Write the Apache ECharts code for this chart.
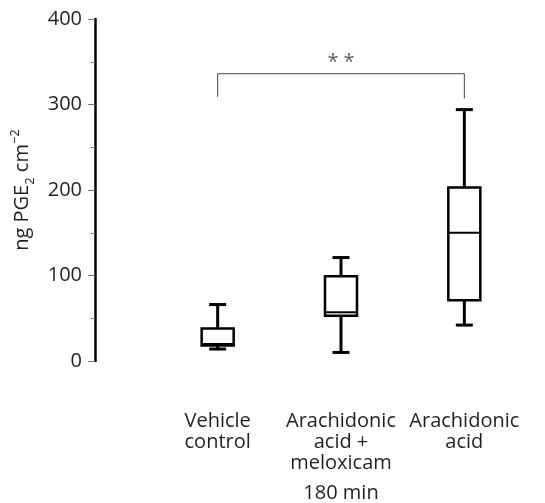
<!doctype html>
<html>
    <head>
        <meta charset="utf-8">
        <style>
            html, body { margin: 0; padding: 0; background: #fff; }
            #main { width: 545px; height: 503px; }
        </style>
    </head>
    <body>
        <div id="main"></div>
        <script src="https://cdn.jsdelivr.net/npm/echarts@6/dist/echarts.min.js"></script>
        <script>
            var chart = echarts.init(document.getElementById('main'));

            // groups and box stats: [min, q1, median, q3, max]
            var groups = ['Vehicle\ncontrol', 'Arachidonic\nacid +\nmeloxicam', 'Arachidonic\nacid'];
            var lows = [14, 10, 42];
            var q1s = [18, 53, 71];
            var medians = [20, 57, 150];
            var q3s = [38, 99, 203];
            var highs = [66, 121, 294];
            var yTicks = [0, 100, 200, 300, 400];

            // significance bracket between first and last group
            var bracket = [[0, 309], [0, 336], [2, 336], [2, 307]];
            var starAt = [[1, 336]];

            var boxData = groups.map(function (g, i) {
                return [i, lows[i], q1s[i], medians[i], q3s[i], highs[i]];
            });

            var font = '"Open Sans", "Noto Sans", sans-serif';
            var ink = '#231f20';

            function renderBox(params, api) {
                var x = api.value(0);
                var lo = api.coord([x, api.value(1)]);
                var q1 = api.coord([x, api.value(2)]);
                var med = api.coord([x, api.value(3)]);
                var q3 = api.coord([x, api.value(4)]);
                var hi = api.coord([x, api.value(5)]);
                var cx = lo[0];
                var bw = 32, cw = 17;
                var ws = { stroke: '#000', lineWidth: 3 };
                return {
                    type: 'group',
                    children: [
                        { type: 'line', shape: { x1: cx, y1: hi[1], x2: cx, y2: q3[1] }, style: ws },
                        { type: 'line', shape: { x1: cx, y1: q1[1], x2: cx, y2: lo[1] }, style: ws },
                        { type: 'line', shape: { x1: cx - cw / 2, y1: hi[1], x2: cx + cw / 2, y2: hi[1] }, style: ws },
                        { type: 'line', shape: { x1: cx - cw / 2, y1: lo[1], x2: cx + cw / 2, y2: lo[1] }, style: ws },
                        { type: 'rect', shape: { x: cx - bw / 2, y: q3[1], width: bw, height: q1[1] - q3[1] }, style: { stroke: '#000', lineWidth: 2.5, fill: '#fff' } },
                        { type: 'line', shape: { x1: cx - bw / 2, y1: med[1], x2: cx + bw / 2, y2: med[1] }, style: { stroke: '#000', lineWidth: 2 } }
                    ]
                };
            }

            chart.setOption({
                animation: false,
                grid: { left: 156, right: 19, top: 19, bottom: 142, outerBoundsMode: 'none', containLabel: false },
                xAxis: {
                    type: 'category',
                    data: groups,
                    name: '180 min',
                    nameLocation: 'middle',
                    nameGap: 122,
                    nameTextStyle: { fontFamily: font, fontSize: 20, color: ink },
                    axisLine: { show: false },
                    axisTick: { show: false },
                    axisLabel: {
                        margin: 50,
                        fontFamily: font,
                        fontSize: 20,
                        lineHeight: 21,
                        color: ink,
                        interval: 0
                    }
                },
                yAxis: {
                    type: 'value',
                    min: yTicks[0],
                    max: yTicks[yTicks.length - 1],
                    interval: 100,
                    offset: 61,
                    name: '{n|ng PGE}{sub|2}{n| cm}{sup|\u22122}',
                    nameLocation: 'middle',
                    nameGap: 57,
                    nameTextStyle: {
                        fontFamily: font,
                        fontSize: 20,
                        color: ink,
                        rich: {
                            n: { fontFamily: font, fontSize: 20, color: ink, lineHeight: 28, verticalAlign: 'middle' },
                            sub: { fontFamily: font, fontSize: 13, color: ink, lineHeight: 28, verticalAlign: 'bottom' },
                            sup: { fontFamily: font, fontSize: 13, color: ink, lineHeight: 28, verticalAlign: 'top' }
                        }
                    },
                    axisLine: { show: true, lineStyle: { color: '#000', width: 2.5 } },
                    axisTick: { show: true, length: 7, lineStyle: { color: '#777', width: 1 } },
                    minorTick: { show: true, splitNumber: 2, length: 4, lineStyle: { color: '#777', width: 1 } },
                    splitLine: { show: false },
                    axisLabel: {
                        margin: 13,
                        fontFamily: font,
                        fontSize: 20,
                        color: ink
                    }
                },
                series: [
                    {
                        type: 'custom',
                        renderItem: renderBox,
                        encode: { x: 0, y: [1, 2, 3, 4, 5] },
                        data: boxData,
                        z: 3
                    },
                    {
                        type: 'line',
                        data: bracket,
                        symbol: 'none',
                        silent: true,
                        lineStyle: { color: '#444', width: 1 },
                        z: 2
                    },
                    {
                        type: 'scatter',
                        data: starAt,
                        symbolSize: 0,
                        silent: true,
                        label: {
                            show: true,
                            position: 'top',
                            distance: 1,
                            formatter: '* *',
                            fontFamily: font,
                            fontSize: 20,
                            color: '#333'
                        }
                    }
                ]
            });

            window.onresize = chart.resize;
        </script>
    </body>
</html>
